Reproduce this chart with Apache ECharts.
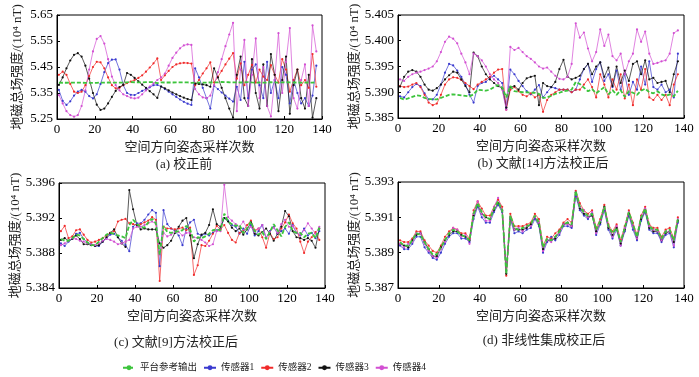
<!DOCTYPE html>
<html><head><meta charset="utf-8">
<script src="https://cdn.jsdelivr.net/npm/echarts@6/dist/echarts.min.js"></script>
<style>html,body{margin:0;padding:0;background:#fff}#c{width:699px;height:377px}</style>
</head><body><div id="c"></div>
<script>
// sample index (x) positions
const sampleIdx = [1,3,5,7,9,11,13,15,17,19,21,23,25,27,29,31,33,35,37,39,41,43,45,47,49,51,53,55,57,59,61,63,65,67,69,71,73,75,77,79,81,83,85,87,89,91,93,95,97,99,101,103,105,107,109,111,113,115,117,119,121,123,125,127,129,131,133,135,137];

const seriesNames = ['平台参考输出','传感器1','传感器2','传感器3','传感器4'];
const xTicks = [0,20,40,60,80,100,120,140];
const yTicksA = [5.25,5.35,5.45,5.55,5.65];
const yTicksB = [5.385,5.390,5.395,5.400,5.405];
const yTicksC = [5.384,5.388,5.392,5.396];
const yTicksD = [5.387,5.389,5.391,5.393];

// platform reference output
const refOutput = [
5.3896,5.3894,5.3894,5.3897,5.3901,5.3900,5.3896,5.3892,5.3889,5.3889,
5.3893,5.3897,5.3901,5.3903,5.3902,5.3900,5.3899,5.3897,5.3912,5.3918,
5.3913,5.3910,5.3909,5.3915,5.3919,5.3914,5.3878,5.3911,5.3904,5.3903,
5.3904,5.3905,5.3906,5.3911,5.3907,5.3893,5.3898,5.3897,5.3899,5.3902,
5.3906,5.3907,5.3906,5.3925,5.3916,5.3913,5.3911,5.3912,5.3903,5.3908,
5.3916,5.3905,5.3901,5.3904,5.3896,5.3904,5.3913,5.3906,5.3899,5.3910,
5.3915,5.3905,5.3903,5.3903,5.3898,5.3902,5.3903,5.3897,5.3909];
// reference as drawn in panel (b)
const refOutputB = [
5.3889,5.3886,5.3888,5.3891,5.3894,5.3893,5.3889,5.3887,5.3886,5.3886,
5.3889,5.3892,5.3895,5.3896,5.3895,5.3894,5.3893,5.3892,5.3896,5.3905,
5.3904,5.3903,5.3905,5.3910,5.3914,5.3909,5.3890,5.3912,5.3902,5.3901,
5.3900,5.3900,5.3899,5.3899,5.3897,5.3889,5.3890,5.3893,5.3897,5.3899,
5.3902,5.3903,5.3905,5.3920,5.3916,5.3909,5.3902,5.3906,5.3898,5.3904,
5.3910,5.3896,5.3904,5.3895,5.3904,5.3891,5.3902,5.3899,5.3895,5.3903,
5.3907,5.3900,5.3898,5.3902,5.3896,5.3893,5.3896,5.3892,5.3903];

// (a) before calibration
const rawS1 = [
5.362,5.320,5.304,5.318,5.340,5.355,5.362,5.355,5.338,5.329,
5.345,5.385,5.430,5.465,5.478,5.479,5.440,5.380,5.350,5.343,
5.342,5.350,5.358,5.365,5.372,5.380,5.381,5.375,5.365,5.355,
5.345,5.335,5.325,5.316,5.309,5.304,5.445,5.410,5.370,5.330,
5.290,5.378,5.365,5.352,5.340,5.328,5.317,5.374,5.323,5.470,
5.330,5.440,5.460,5.380,5.330,5.470,5.350,5.400,5.330,5.450,
5.420,5.310,5.400,5.350,5.310,5.330,5.300,5.340,5.455];
const rawS2 = [
5.420,5.432,5.420,5.385,5.355,5.350,5.355,5.380,5.415,5.450,
5.470,5.468,5.445,5.410,5.380,5.368,5.370,5.380,5.388,5.394,
5.400,5.408,5.418,5.432,5.448,5.464,5.483,5.400,5.418,5.435,
5.450,5.460,5.464,5.466,5.465,5.463,5.380,5.400,5.425,5.445,
5.468,5.390,5.412,5.435,5.460,5.482,5.503,5.405,5.464,5.380,
5.420,5.458,5.390,5.440,5.413,5.400,5.457,5.420,5.390,5.480,
5.440,5.355,5.400,5.440,5.380,5.400,5.370,5.500,5.374];
const rawS3 = [
5.381,5.410,5.445,5.475,5.497,5.503,5.490,5.455,5.405,5.350,
5.305,5.285,5.290,5.310,5.335,5.358,5.373,5.381,5.427,5.420,
5.408,5.395,5.382,5.370,5.357,5.345,5.331,5.375,5.368,5.360,
5.352,5.345,5.338,5.332,5.327,5.323,5.386,5.385,5.383,5.380,
5.374,5.445,5.410,5.370,5.330,5.290,5.255,5.420,5.490,5.330,
5.300,5.480,5.350,5.290,5.460,5.300,5.500,5.420,5.280,5.400,
5.490,5.270,5.380,5.440,5.330,5.290,5.420,5.255,5.330];
const rawS4 = [
5.342,5.310,5.280,5.265,5.259,5.265,5.300,5.360,5.440,5.510,
5.558,5.569,5.540,5.480,5.413,5.380,5.360,5.345,5.338,5.332,
5.329,5.332,5.345,5.360,5.375,5.387,5.400,5.410,5.425,5.455,
5.485,5.505,5.522,5.533,5.537,5.535,5.365,5.345,5.333,5.330,
5.340,5.380,5.430,5.480,5.530,5.575,5.620,5.280,5.440,5.554,
5.300,5.420,5.560,5.330,5.450,5.300,5.260,5.400,5.580,5.350,
5.470,5.600,5.330,5.290,5.400,5.460,5.300,5.610,5.510];

// (b) method of ref [14]
const litS1 = [
5.3892,5.3890,5.3900,5.3910,5.3916,5.3912,5.3898,5.3886,5.3886,5.3895,
5.3915,5.3938,5.3955,5.3952,5.3942,5.3930,5.3915,5.3895,5.3880,5.3912,
5.3918,5.3920,5.3928,5.3932,5.3925,5.3918,5.3870,5.3944,5.3935,5.3922,
5.3912,5.3902,5.3896,5.3905,5.3914,5.3890,5.3900,5.3910,5.3908,5.3905,
5.3905,5.3905,5.3900,5.3905,5.3925,5.3945,5.3955,5.3920,5.3945,5.3958,
5.3922,5.3935,5.3910,5.3942,5.3905,5.3935,5.3895,5.3920,5.3905,5.3950,
5.3915,5.3960,5.3910,5.3905,5.3915,5.3900,5.3905,5.3890,5.3975];
const litS2 = [
5.3912,5.3910,5.3911,5.3915,5.3918,5.3910,5.3895,5.3880,5.3875,5.3878,
5.3895,5.3915,5.3925,5.3929,5.3928,5.3924,5.3918,5.3912,5.3906,5.3915,
5.3920,5.3925,5.3930,5.3938,5.3944,5.3945,5.3866,5.3905,5.3910,5.3902,
5.3895,5.3892,5.3898,5.3890,5.3895,5.3862,5.3885,5.3895,5.3900,5.3905,
5.3905,5.3905,5.3900,5.3905,5.3905,5.3915,5.3925,5.3910,5.3890,5.3935,
5.3915,5.3890,5.3925,5.3905,5.3935,5.3888,5.3915,5.3875,5.3925,5.3905,
5.3945,5.3890,5.3885,5.3895,5.3885,5.3895,5.3875,5.3915,5.3935];
const litS3 = [
5.3911,5.3930,5.3940,5.3943,5.3940,5.3930,5.3915,5.3905,5.3903,5.3908,
5.3915,5.3925,5.3933,5.3940,5.3938,5.3925,5.3912,5.3900,5.3977,5.3970,
5.3950,5.3935,5.3925,5.3918,5.3912,5.3908,5.3870,5.3910,5.3912,5.3905,
5.3918,5.3927,5.3930,5.3932,5.3875,5.3918,5.3912,5.3910,5.3920,5.3945,
5.3963,5.3930,5.3925,5.3928,5.3932,5.3945,5.3955,5.3935,5.3950,5.3958,
5.3930,5.3948,5.3912,5.3950,5.3918,5.3942,5.3922,5.3955,5.3960,5.3935,
5.3962,5.3925,5.3928,5.3918,5.3920,5.3922,5.3900,5.3935,5.3960];
const litS4 = [
5.3925,5.3922,5.3930,5.3935,5.3938,5.3940,5.3943,5.3946,5.3950,5.3960,
5.3978,5.3998,5.4008,5.4004,5.3995,5.3975,5.3958,5.3935,5.3975,5.3970,
5.3962,5.3950,5.3935,5.3925,5.3918,5.3905,5.3866,5.3988,5.3982,5.3986,
5.3978,5.3970,5.3965,5.3958,5.3950,5.3946,5.3948,5.3940,5.3932,5.3926,
5.3925,5.3930,5.3955,5.4034,5.4006,5.4016,5.3985,5.3960,5.3978,5.4022,
5.3990,5.4012,5.3970,5.3962,5.3975,5.3935,5.3960,5.3975,5.4022,5.3998,
5.4018,5.3975,5.3955,5.3957,5.3960,5.3962,5.3975,5.4015,5.4020];

// (c) method of ref [9]
const l9S1 = [
5.3891,5.3888,5.3893,5.3896,5.3902,5.3903,5.3896,5.3892,5.3890,5.3888,
5.3888,5.3893,5.3897,5.3901,5.3902,5.3898,5.3894,5.3889,5.3882,5.3910,
5.3914,5.3914,5.3918,5.3924,5.3929,5.3926,5.3865,5.3929,5.3913,5.3908,
5.3905,5.3900,5.3889,5.3908,5.3915,5.3918,5.3902,5.3900,5.3902,5.3900,
5.3903,5.3906,5.3908,5.3920,5.3917,5.3912,5.3910,5.3902,5.3908,5.3902,
5.3912,5.3900,5.3905,5.3912,5.3897,5.3905,5.3910,5.3902,5.3905,5.3908,
5.3902,5.3912,5.3903,5.3900,5.3908,5.3900,5.3903,5.3897,5.3905];
const l9S2 = [
5.3905,5.3911,5.3897,5.3899,5.3906,5.3907,5.3901,5.3895,5.3892,5.3893,
5.3895,5.3897,5.3900,5.3903,5.3905,5.3916,5.3918,5.3919,5.3914,5.3913,
5.3912,5.3913,5.3915,5.3917,5.3921,5.3918,5.3848,5.3910,5.3908,5.3908,
5.3907,5.3908,5.3909,5.3906,5.3909,5.3855,5.3866,5.3889,5.3888,5.3894,
5.3902,5.3911,5.3907,5.3912,5.3903,5.3895,5.3892,5.3903,5.3905,5.3912,
5.3917,5.3906,5.3908,5.3898,5.3886,5.3903,5.3896,5.3898,5.3908,5.3915,
5.3924,5.3914,5.3908,5.3893,5.3880,5.3893,5.3898,5.3904,5.3895];
const l9S3 = [
5.3895,5.3897,5.3894,5.3896,5.3900,5.3896,5.3890,5.3890,5.3889,5.3888,
5.3889,5.3893,5.3898,5.3903,5.3907,5.3898,5.3891,5.3887,5.3952,5.3930,
5.3912,5.3907,5.3908,5.3907,5.3907,5.3907,5.3891,5.3886,5.3889,5.3894,
5.3903,5.3910,5.3917,5.3920,5.3900,5.3874,5.3890,5.3901,5.3903,5.3912,
5.3930,5.3913,5.3910,5.3920,5.3916,5.3909,5.3905,5.3908,5.3901,5.3907,
5.3915,5.3902,5.3900,5.3904,5.3908,5.3902,5.3894,5.3902,5.3910,5.3928,
5.3922,5.3905,5.3898,5.3897,5.3895,5.3897,5.3894,5.3886,5.3908];
const l9S4 = [
5.3889,5.3891,5.3894,5.3897,5.3896,5.3894,5.3893,5.3891,5.3890,5.3889,
5.3891,5.3894,5.3896,5.3895,5.3893,5.3890,5.3891,5.3893,5.3895,5.3908,
5.3910,5.3910,5.3912,5.3914,5.3916,5.3913,5.3878,5.3903,5.3899,5.3901,
5.3904,5.3904,5.3900,5.3903,5.3903,5.3898,5.3897,5.3895,5.3892,5.3888,
5.3890,5.3905,5.3905,5.3958,5.3921,5.3917,5.3913,5.3910,5.3916,5.3908,
5.3910,5.3904,5.3908,5.3912,5.3898,5.3904,5.3909,5.3903,5.3913,5.3918,
5.3910,5.3911,5.3903,5.3901,5.3906,5.3914,5.3908,5.3902,5.3910];

// (d) nonlinear ensemble calibration
const nlS1 = [
5.3894,5.3892,5.3892,5.3895,5.3899,5.3899,5.3893,5.3890,5.3887,5.3886,
5.3890,5.3895,5.3899,5.3901,5.3901,5.3898,5.3898,5.3896,5.3909,5.3916,
5.3910,5.3907,5.3907,5.3913,5.3917,5.3913,5.3880,5.3909,5.3901,5.3902,
5.3901,5.3903,5.3904,5.3909,5.3905,5.3890,5.3896,5.3899,5.3897,5.3900,
5.3905,5.3905,5.3904,5.3922,5.3914,5.3911,5.3909,5.3912,5.3900,5.3906,
5.3914,5.3903,5.3898,5.3903,5.3894,5.3902,5.3911,5.3903,5.3897,5.3908,
5.3913,5.3903,5.3901,5.3901,5.3896,5.3900,5.3901,5.3893,5.3907];
const nlS2 = [
5.3897,5.3896,5.3896,5.3898,5.3902,5.3902,5.3897,5.3894,5.3891,5.3890,
5.3894,5.3899,5.3902,5.3904,5.3903,5.3901,5.3901,5.3898,5.3914,5.3919,
5.3915,5.3911,5.3911,5.3916,5.3920,5.3916,5.3877,5.3912,5.3905,5.3905,
5.3905,5.3906,5.3907,5.3912,5.3909,5.3894,5.3899,5.3898,5.3901,5.3903,
5.3907,5.3909,5.3907,5.3925,5.3918,5.3914,5.3912,5.3914,5.3904,5.3909,
5.3917,5.3906,5.3902,5.3906,5.3897,5.3905,5.3914,5.3907,5.3900,5.3911,
5.3916,5.3906,5.3904,5.3904,5.3899,5.3903,5.3904,5.3898,5.3910];
const nlS3 = [
5.3895,5.3894,5.3893,5.3897,5.3900,5.3901,5.3896,5.3892,5.3888,5.3888,
5.3893,5.3897,5.3900,5.3902,5.3902,5.3900,5.3899,5.3897,5.3911,5.3917,
5.3912,5.3910,5.3909,5.3914,5.3918,5.3914,5.3878,5.3910,5.3903,5.3903,
5.3903,5.3904,5.3906,5.3910,5.3906,5.3892,5.3897,5.3897,5.3898,5.3902,
5.3906,5.3907,5.3905,5.3924,5.3915,5.3912,5.3910,5.3911,5.3902,5.3907,
5.3916,5.3904,5.3900,5.3904,5.3895,5.3903,5.3912,5.3905,5.3898,5.3909,
5.3914,5.3904,5.3902,5.3902,5.3897,5.3901,5.3902,5.3896,5.3908];
const nlS4 = [
5.3895,5.3893,5.3895,5.3896,5.3901,5.3901,5.3895,5.3891,5.3888,5.3887,
5.3892,5.3896,5.3901,5.3904,5.3903,5.3899,5.3900,5.3895,5.3912,5.3919,
5.3912,5.3908,5.3908,5.3916,5.3921,5.3914,5.3879,5.3910,5.3903,5.3904,
5.3902,5.3905,5.3905,5.3910,5.3907,5.3891,5.3897,5.3896,5.3899,5.3901,
5.3906,5.3906,5.3905,5.3924,5.3916,5.3914,5.3910,5.3913,5.3901,5.3908,
5.3915,5.3905,5.3899,5.3905,5.3894,5.3904,5.3913,5.3905,5.3898,5.3910,
5.3915,5.3905,5.3903,5.3902,5.3897,5.3902,5.3902,5.3894,5.3909];

const SERIF = "'Liberation Serif','Noto Sans CJK SC'";
const colors = ['#3cc43c','#3a3acf','#f02a2a','#111111','#d24fd2'];

const panels = [
  {grid:{left:57,top:15,width:265,height:104}, min:5.25, max:5.65, ticks:yTicksA, dec:2, data:[refOutput,rawS1,rawS2,rawS3,rawS4], title:'(a) 校正前', tx:184, ty:165, ngap:33},
  {grid:{left:398,top:15,width:286,height:103}, min:5.385, max:5.405, ticks:yTicksB, dec:3, data:[refOutputB,litS1,litS2,litS3,litS4], title:'(b) 文献[14]方法校正后', tx:543, ty:164, ngap:37},
  {grid:{left:59,top:183,width:266,height:105}, min:5.384, max:5.396, ticks:yTicksC, dec:3, data:[refOutput,l9S1,l9S2,l9S3,l9S4], title:'(c) 文献[9]方法校正后', tx:176, ty:343, ngap:36},
  {grid:{left:398,top:182,width:286,height:106}, min:5.387, max:5.393, ticks:yTicksD, dec:3, data:[refOutput,nlS1,nlS2,nlS3,nlS4], title:'(d) 非线性集成校正后', tx:544, ty:341, ngap:36}
];

const grids=[], xAxes=[], yAxes=[], series=[];
panels.forEach((p,i)=>{
  grids.push(Object.assign({show:true, borderColor:'#000', borderWidth:1, backgroundColor:'#fff'}, p.grid));
  xAxes.push({type:'value', gridIndex:i, min:0, max:140, interval:20,
    axisLine:{show:true, lineStyle:{color:'#000', width:1}},
    axisTick:{show:true, inside:true, length:3, lineStyle:{color:'#000'}},
    axisLabel:{color:'#000', fontFamily:SERIF, fontSize:13, margin:4},
    splitLine:{show:false},
    name:'空间方向姿态采样次数', nameLocation:'middle', nameGap:22,
    nameTextStyle:{color:'#222', fontFamily:SERIF, fontSize:13}});
  yAxes.push({type:'value', gridIndex:i, min:p.min, max:p.max,
    axisLine:{show:true, lineStyle:{color:'#000', width:1}},
    axisTick:{show:true, inside:true, length:3, lineStyle:{color:'#000'}, customValues:p.ticks},
    axisLabel:{color:'#000', fontFamily:SERIF, fontSize:13, margin:4, customValues:p.ticks,
      formatter:(v)=>Number(v).toFixed(p.dec)},
    splitLine:{show:false},
    name:'地磁总场强度/(10⁴ nT)', nameLocation:'middle', nameRotate:90, nameGap:p.ngap,
    nameTextStyle:{color:'#222', fontFamily:SERIF, fontSize:13}});
  p.data.forEach((arr,k)=>{
    const pts = sampleIdx.map((x,j)=>[x, arr[j]]);
    const isRef = k===0;
    series.push({type:'line', name:seriesNames[k], xAxisIndex:i, yAxisIndex:i, data:pts,
      z: isRef?4:2, silent:true, animation:false,
      symbol: isRef?'none':'circle', symbolSize:2.2, showSymbol:!isRef,
      itemStyle:{color:colors[k]},
      lineStyle:{color:colors[k], width: isRef?1.8:0.7, type: isRef?[4,2]:'solid'}});
  });
});
const gfx = panels.map(p=>({type:'text', x:p.tx, y:p.ty, style:{text:p.title, font:"13px "+SERIF, fill:'#222', align:'center', verticalAlign:'middle'}}));

const chart = echarts.init(document.getElementById('c'), null, {renderer:'canvas'});
chart.setOption({
  animation:false,
  backgroundColor:'#fff',
  grid:grids, xAxis:xAxes, yAxis:yAxes, series:series,
  graphic:gfx,
  legend:{data:seriesNames, left:117, top:358, itemWidth:12, itemHeight:6, itemGap:6,
    textStyle:{fontFamily:SERIF, fontSize:9.5, color:'#222'}}
});
</script></body></html>
